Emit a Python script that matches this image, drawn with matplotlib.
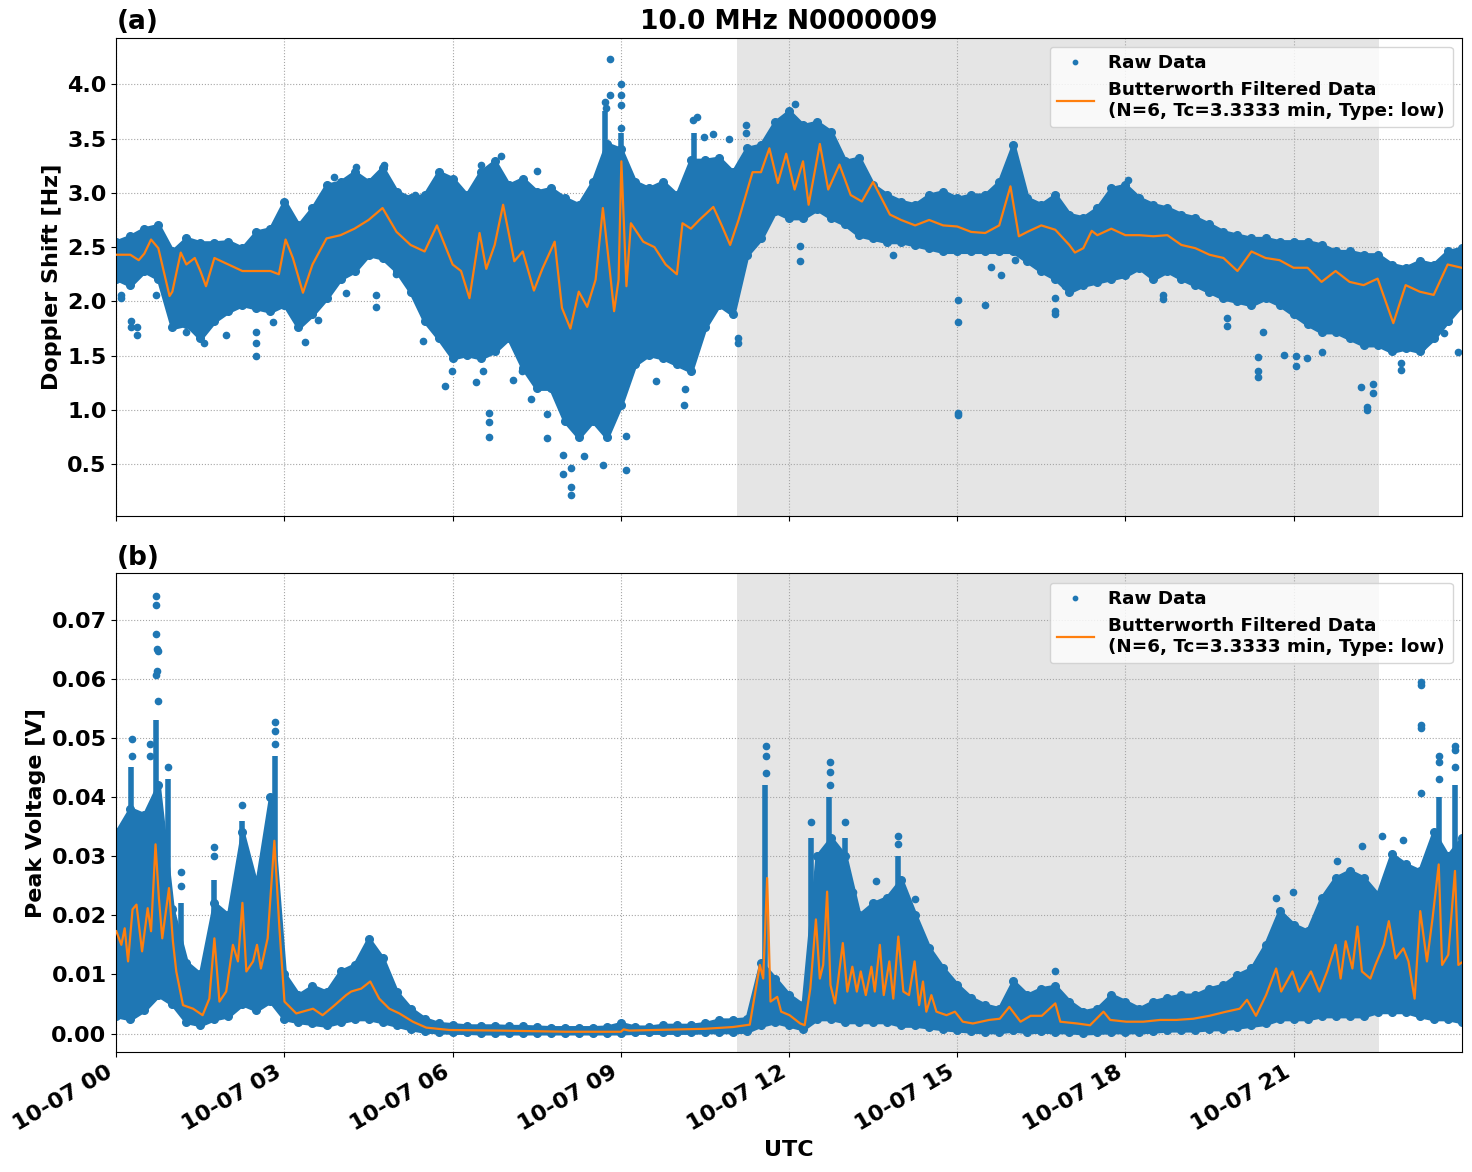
import numpy as np
import matplotlib
matplotlib.use("Agg")
import matplotlib.pyplot as plt
import matplotlib.dates as mdates

plt.rcParams['font.size'] = 16
plt.rcParams['font.weight'] = 'bold'
plt.rcParams['axes.titleweight'] = 'bold'
plt.rcParams['axes.labelweight'] = 'bold'

DAY = np.datetime64('2023-10-07T00:00:00')
SHADE = (11.07, 22.53)          # hours UTC
LEGEND_LINE = 'Butterworth Filtered Data\n(N=6, Tc=3.3333 min, Type: low)'

# band of the raw data, every 15 min (0 .. 24 h)
band_hours = np.arange(0, 24.01, 0.25)

doppler_hi = [2.55, 2.60, 2.67, 2.70, 2.46, 2.58, 2.54, 2.54,
              2.55, 2.49, 2.64, 2.67, 2.92, 2.70, 2.86, 3.07,
              3.10, 3.19, 3.10, 3.23, 3.01, 2.95, 2.98, 3.19,
              3.13, 2.98, 3.19, 3.29, 3.07, 3.13, 3.01, 3.04,
              2.95, 2.89, 3.10, 3.45, 3.40, 3.10, 3.04, 3.10,
              2.98, 3.30, 3.30, 3.32, 3.19, 3.41, 3.44, 3.65,
              3.75, 3.62, 3.65, 3.56, 3.29, 3.32, 3.07, 2.98,
              2.92, 2.89, 2.98, 3.01, 2.95, 2.98, 2.98, 3.10,
              3.44, 2.95, 2.89, 2.98, 2.80, 2.77, 2.86, 3.04,
              3.07, 2.95, 2.89, 2.86, 2.80, 2.77, 2.71, 2.64,
              2.61, 2.58, 2.58, 2.55, 2.55, 2.55, 2.52, 2.46,
              2.46, 2.43, 2.43, 2.34, 2.31, 2.37, 2.34, 2.46,
              2.49]
doppler_lo = [2.21, 2.15, 2.28, 2.21, 1.76, 1.79, 1.66, 1.82,
              1.91, 1.97, 1.94, 1.91, 1.97, 1.76, 1.88, 2.03,
              2.21, 2.28, 2.43, 2.40, 2.28, 2.09, 1.82, 1.66,
              1.48, 1.51, 1.48, 1.54, 1.66, 1.39, 1.20, 1.20,
              0.90, 0.75, 0.90, 0.75, 1.05, 1.42, 1.51, 1.48,
              1.42, 1.36, 1.76, 1.97, 1.88, 2.43, 2.58, 2.83,
              2.77, 2.77, 2.85, 2.77, 2.71, 2.61, 2.58, 2.55,
              2.55, 2.52, 2.49, 2.46, 2.46, 2.46, 2.46, 2.46,
              2.46, 2.37, 2.28, 2.21, 2.09, 2.15, 2.18, 2.21,
              2.24, 2.31, 2.21, 2.28, 2.21, 2.15, 2.09, 2.03,
              2.00, 1.97, 2.03, 1.97, 1.88, 1.79, 1.72, 1.72,
              1.66, 1.60, 1.60, 1.54, 1.57, 1.54, 1.66, 1.82,
              1.97]
volt_hi = [0.034, 0.038, 0.037, 0.042, 0.021, 0.012, 0.010, 0.022,
           0.020, 0.034, 0.025, 0.040, 0.010, 0.0065, 0.008, 0.007,
           0.0105, 0.0116, 0.0160, 0.0127, 0.007, 0.0042, 0.0025, 0.0017,
           0.0015, 0.0013, 0.0013, 0.0013, 0.0012, 0.0012, 0.0011, 0.0010,
           0.0010, 0.0010, 0.0010, 0.0011, 0.0017, 0.0011, 0.0011, 0.0014,
           0.0014, 0.0014, 0.0017, 0.0023, 0.0023, 0.0025, 0.012, 0.0093,
           0.0065, 0.0048, 0.030, 0.033, 0.030, 0.020, 0.022, 0.023,
           0.026, 0.020, 0.0144, 0.011, 0.0082, 0.006, 0.0048, 0.0042,
           0.0088, 0.0065, 0.0076, 0.0080, 0.0054, 0.0037, 0.0042, 0.0065,
           0.0054, 0.0042, 0.0054, 0.006, 0.0065, 0.0065, 0.0076, 0.0082,
           0.0099, 0.011, 0.015, 0.0207, 0.0184, 0.0173, 0.0229, 0.0263,
           0.0275, 0.0263, 0.0235, 0.0303, 0.0286, 0.0275, 0.034, 0.030,
           0.033]
volt_lo = [0.003, 0.0025, 0.004, 0.0065, 0.005, 0.002, 0.0015, 0.0025,
           0.003, 0.005, 0.004, 0.0055, 0.0025, 0.002, 0.0017, 0.0014,
           0.002, 0.0025, 0.0025, 0.002, 0.0014, 0.0008, 0.0004, 0.0003,
           0.0002, 0.0002, 0.0001, 0.0001, 0.0001, 0.0001, 0.0001, 0.0001,
           0.0001, 0.0001, 0.0001, 0.0001, 0.0001, 0.0002, 0.0002, 0.0002,
           0.0002, 0.0002, 0.0003, 0.0003, 0.0003, 0.0004, 0.0014, 0.002,
           0.0014, 0.0008, 0.0025, 0.0025, 0.002, 0.002, 0.002, 0.002,
           0.0014, 0.0014, 0.0011, 0.0008, 0.0006, 0.0004, 0.0003, 0.0003,
           0.0006, 0.0003, 0.0004, 0.0003, 0.0003, 0.0001, 0.0002, 0.0003,
           0.0003, 0.0003, 0.0004, 0.0006, 0.0006, 0.0006, 0.0008, 0.0008,
           0.0011, 0.0014, 0.0017, 0.0025, 0.0025, 0.0025, 0.003, 0.003,
           0.003, 0.003, 0.0037, 0.0037, 0.0037, 0.003, 0.0025, 0.0025,
           0.002]

# short bursts where raw points pile up: hour, bottom, top
doppler_burst_h = [8.72, 9.01, 10.30]
doppler_burst_lo = [1.50, 1.20, 2.20]
doppler_burst_hi = [3.75, 3.55, 3.55]
volt_burst_h = [0.27, 0.70, 0.93, 1.15, 1.75, 2.25, 2.83, 11.58, 12.40, 12.72, 13.00, 13.95, 23.60, 23.88]
volt_burst_lo = [0.02, 0.02, 0.02, 0.005, 0.005, 0.01, 0.01, 0.003, 0.003, 0.003, 0.003, 0.003, 0.01, 0.01]
volt_burst_hi = [0.045, 0.053, 0.043, 0.022, 0.026, 0.036, 0.047, 0.042, 0.033, 0.040, 0.033, 0.030, 0.040, 0.042]

# isolated raw points
doppler_pt_h = [0.09, 0.09, 0.27, 0.27, 0.37, 0.37, 0.71, 1.25, 1.57, 1.96, 2.50, 2.50, 2.50, 2.79,
                3.36, 3.59, 3.89, 4.10, 4.28, 4.63, 4.63, 4.78, 4.99, 5.32, 5.48, 5.75, 5.86, 5.99,
                6.41, 6.51, 6.54, 6.64, 6.64, 6.64, 6.86, 7.07, 7.24, 7.39, 7.50, 7.68, 7.68, 7.96,
                7.96, 8.12, 8.12, 8.11, 8.35, 8.68, 8.80, 8.80, 8.71, 8.74, 9.01, 9.01, 9.01, 9.01,
                9.10, 9.10, 9.63, 10.13, 10.14, 10.35, 10.29, 10.48, 10.64, 10.93, 11.09, 11.09,
                11.23, 11.23, 12.10, 12.19, 12.19, 13.86, 15.02, 15.02, 15.02, 15.02, 15.49, 15.61,
                15.79, 16.04, 16.74, 16.74, 16.75, 16.93, 18.04, 18.67, 18.67, 19.82, 19.82, 20.36,
                20.36, 20.36, 20.45, 20.83, 21.05, 21.05, 21.24, 21.51, 22.20, 22.31, 22.31, 22.42,
                22.42, 22.91, 22.91, 23.29, 23.69, 23.94]
doppler_pt_v = [2.03, 2.06, 1.82, 1.76, 1.76, 1.69, 2.06, 1.72, 1.62, 1.69, 1.72, 1.62, 1.50, 1.81,
                1.63, 1.83, 3.15, 2.08, 3.24, 1.95, 2.06, 3.26, 2.25, 2.98, 1.64, 1.80, 1.22, 1.36,
                1.26, 3.26, 1.36, 0.97, 0.89, 0.75, 3.34, 1.28, 1.36, 1.10, 3.20, 0.74, 0.96, 0.41,
                0.59, 0.22, 0.29, 0.47, 0.58, 0.49, 4.23, 3.90, 3.84, 3.78, 4.00, 3.90, 3.81, 3.60,
                0.45, 0.76, 1.27, 1.05, 1.19, 3.70, 3.67, 3.51, 3.54, 3.50, 1.66, 1.62,
                3.62, 3.55, 3.82, 2.51, 2.37, 2.43, 1.81, 2.01, 0.97, 0.95, 1.97, 2.32,
                2.24, 2.38, 1.88, 1.91, 2.03, 2.14, 3.12, 2.02, 2.06, 1.77, 1.85, 1.49,
                1.36, 1.30, 1.72, 1.51, 1.41, 1.50, 1.48, 1.53, 1.21, 1.00, 1.03, 1.16,
                1.24, 1.37, 1.43, 1.58, 1.71, 1.53]
volt_pt_h = [0.70, 0.70, 0.70, 0.72, 0.74, 0.72, 0.71, 0.75, 0.28, 0.28, 0.60, 0.60, 0.92,
             1.15, 1.15, 1.75, 1.75, 2.25, 2.83, 2.83, 2.83, 11.59, 11.59, 11.59, 12.40,
             12.73, 12.73, 12.73, 13.00, 13.15, 13.55, 13.95, 13.95, 14.25, 16.75, 20.69,
             20.99, 21.78, 22.22, 22.58, 22.96, 23.27, 23.27, 23.27, 23.27, 23.27, 23.60,
             23.60, 23.59, 23.88, 23.88, 23.88]
volt_pt_v = [0.0740, 0.0725, 0.0676, 0.0650, 0.0647, 0.0613, 0.0606, 0.0563, 0.0498, 0.0470,
             0.0490, 0.0470, 0.0450, 0.0273, 0.0250, 0.0315, 0.0300, 0.0386, 0.0526, 0.0511,
             0.0490, 0.0487, 0.0470, 0.0440, 0.0357, 0.0459, 0.0443, 0.0420, 0.0357, 0.0240,
             0.0258, 0.0334, 0.0320, 0.0228, 0.0105, 0.0229, 0.0240, 0.0292, 0.0317, 0.0334,
             0.0328, 0.0595, 0.0589, 0.0521, 0.0516, 0.0406, 0.0470, 0.0460, 0.0430, 0.0487,
             0.0480, 0.0450]

# Butterworth filtered curves (hour, value)
doppler_filt_h = [0.00, 0.25, 0.40, 0.50, 0.62, 0.75, 0.95, 1.00, 1.15, 1.25, 1.40, 1.50, 1.60,
                  1.75, 2.00, 2.25, 2.50, 2.75, 2.90, 3.02, 3.15, 3.33, 3.50, 3.75, 4.00, 4.25,
                  4.50, 4.75, 5.00, 5.25, 5.50, 5.72, 6.00, 6.15, 6.30, 6.48, 6.60, 6.75, 6.90,
                  7.10, 7.25, 7.45, 7.60, 7.82, 7.95, 8.10, 8.25, 8.40, 8.55, 8.68, 8.80, 8.88,
                  8.96, 9.01, 9.10, 9.18, 9.40, 9.60, 9.80, 10.00, 10.10, 10.25, 10.40, 10.65,
                  10.80, 10.95, 11.10, 11.35, 11.50, 11.65, 11.80, 11.95, 12.10, 12.25, 12.35,
                  12.55, 12.70, 12.90, 13.10, 13.30, 13.50, 13.80, 14.00, 14.25, 14.50, 14.75,
                  15.00, 15.25, 15.50, 15.75, 15.95, 16.10, 16.25, 16.50, 16.75, 17.00, 17.10,
                  17.25, 17.40, 17.50, 17.75, 18.00, 18.25, 18.50, 18.75, 19.00, 19.25, 19.50,
                  19.75, 20.00, 20.25, 20.50, 20.75, 21.00, 21.25, 21.50, 21.75, 22.00, 22.25,
                  22.50, 22.78, 23.00, 23.25, 23.50, 23.75, 24.00]
doppler_filt_v = [2.43, 2.43, 2.38, 2.44, 2.57, 2.49, 2.05, 2.09, 2.45, 2.34, 2.40, 2.28, 2.14,
                  2.40, 2.34, 2.28, 2.28, 2.28, 2.25, 2.57, 2.40, 2.08, 2.34, 2.58, 2.61, 2.67,
                  2.75, 2.86, 2.64, 2.52, 2.46, 2.70, 2.34, 2.28, 2.03, 2.63, 2.30, 2.52, 2.89,
                  2.37, 2.46, 2.10, 2.30, 2.55, 1.94, 1.75, 2.09, 1.95, 2.20, 2.86, 2.30, 1.91,
                  2.20, 3.29, 2.14, 2.72, 2.55, 2.50, 2.34, 2.25, 2.72, 2.67, 2.75, 2.87,
                  2.70, 2.52, 2.75, 3.19, 3.19, 3.41, 3.09, 3.36, 3.03, 3.29, 2.89,
                  3.45, 3.03, 3.26, 2.98, 2.92, 3.10, 2.80, 2.75, 2.70, 2.75, 2.70,
                  2.69, 2.64, 2.63, 2.70, 3.06, 2.60, 2.64, 2.70, 2.66, 2.52, 2.45,
                  2.49, 2.65, 2.61, 2.67, 2.61, 2.61, 2.60, 2.61, 2.52, 2.49, 2.43,
                  2.40, 2.28, 2.46, 2.40, 2.38, 2.31, 2.31, 2.18, 2.28, 2.18, 2.15,
                  2.21, 1.80, 2.15, 2.09, 2.06, 2.34, 2.31]
volt_filt_h = [0.00, 0.09, 0.15, 0.21, 0.29, 0.36, 0.46, 0.56, 0.62, 0.70, 0.76, 0.82, 0.94,
               1.01, 1.07, 1.19, 1.37, 1.54, 1.66, 1.75, 1.84, 1.96, 2.08, 2.17, 2.25, 2.32,
               2.44, 2.51, 2.58, 2.70, 2.82, 2.91, 3.00, 3.21, 3.51, 3.68, 3.86, 4.10, 4.19,
               4.37, 4.53, 4.69, 4.87, 5.05, 5.29, 5.53, 5.94, 6.83, 8.02, 9.00, 9.05, 9.15,
               10.50, 11.00, 11.30, 11.48, 11.54, 11.61, 11.67, 11.79, 11.86, 12.01, 12.20,
               12.28, 12.38, 12.48, 12.55, 12.61, 12.68, 12.74, 12.82, 12.88, 12.96, 13.04,
               13.13, 13.21, 13.28, 13.37, 13.47, 13.53, 13.62, 13.69, 13.79, 13.86, 13.95,
               14.04, 14.14, 14.24, 14.32, 14.39, 14.45, 14.54, 14.63, 14.81, 14.96, 15.10,
               15.28, 15.57, 15.76, 15.93, 16.13, 16.31, 16.51, 16.75, 16.84, 17.14, 17.37,
               17.61, 17.73, 18.02, 18.32, 18.62, 18.91, 19.21, 19.50, 19.80, 20.04, 20.17,
               20.33, 20.51, 20.69, 20.78, 20.98, 21.10, 21.31, 21.46, 21.60, 21.75, 21.84,
               21.93, 22.05, 22.14, 22.22, 22.37, 22.46, 22.61, 22.70, 22.82, 22.96, 23.05,
               23.16, 23.26, 23.38, 23.48, 23.59, 23.65, 23.76, 23.88, 23.94, 24.00]
volt_filt_v = [0.0173, 0.0150, 0.0178, 0.0122, 0.0210, 0.0218, 0.0139, 0.0212, 0.0173, 0.0320,
               0.0229, 0.0161, 0.0246, 0.0156, 0.0105, 0.0048, 0.0042, 0.0031, 0.0059, 0.0161,
               0.0054, 0.0071, 0.0150, 0.0122, 0.0221, 0.0105, 0.0122, 0.0150, 0.0110, 0.0161,
               0.0326, 0.0178, 0.0054, 0.0034, 0.0042, 0.0031, 0.0045, 0.0065, 0.0071, 0.0076,
               0.0088, 0.0059, 0.0042, 0.0034, 0.0020, 0.0010, 0.0006, 0.0005, 0.0003, 0.0003,
               0.0007, 0.0005, 0.0008, 0.0011, 0.0015, 0.0116, 0.0093, 0.0263, 0.0054, 0.0062,
               0.0037, 0.0031, 0.0017, 0.0014, 0.0076, 0.0193, 0.0093, 0.0116, 0.0240, 0.0082,
               0.0051, 0.0093, 0.0153, 0.0071, 0.0113, 0.0071, 0.0105, 0.0065, 0.0113, 0.0071,
               0.0150, 0.0065, 0.0122, 0.0059, 0.0164, 0.0071, 0.0065, 0.0122, 0.0048, 0.0088,
               0.0037, 0.0065, 0.0037, 0.0031, 0.0037, 0.0020, 0.0017, 0.0023, 0.0025, 0.0045,
               0.0020, 0.0030, 0.0030, 0.0051, 0.0020, 0.0017, 0.0014, 0.0037, 0.0023, 0.0020,
               0.0020, 0.0023, 0.0023, 0.0025, 0.0030, 0.0037, 0.0042, 0.0057, 0.0030, 0.0065,
               0.0110, 0.0071, 0.0105, 0.0071, 0.0105, 0.0071, 0.0105, 0.0150, 0.0093, 0.0156,
               0.0110, 0.0181, 0.0105, 0.0093, 0.0116, 0.0150, 0.0190, 0.0127, 0.0144, 0.0122,
               0.0059, 0.0207, 0.0122, 0.0195, 0.0286, 0.0116, 0.0133, 0.0275, 0.0116, 0.0120]


def to_time(hours):
    secs = np.round(np.asarray(hours, dtype=float) * 3600).astype('int64')
    return DAY + secs.astype('timedelta64[s]')


def draw_panel(ax, hi, lo, burst_h, burst_lo, burst_hi, pt_h, pt_v, filt_h, filt_v):
    t = to_time(band_hours)
    ax.axvspan(to_time([SHADE[0]])[0], to_time([SHADE[1]])[0], color='gray', alpha=0.2, lw=0, zorder=1)
    ax.fill_between(t, lo, hi, color='C0', lw=3, edgecolor='C0', zorder=2)
    # dots on the edges of the band give it the ragged look of the scatter
    ax.plot(t, hi, '.', color='C0', ms=11, ls='none', zorder=2)
    ax.plot(t, lo, '.', color='C0', ms=11, ls='none', zorder=2)
    ax.vlines(to_time(burst_h), burst_lo, burst_hi, color='C0', lw=4, zorder=2)
    ax.plot(to_time(pt_h), pt_v, '.', color='C0', ms=9, ls='none', zorder=2, label='Raw Data')
    ax.plot(to_time(filt_h), filt_v, color='C1', lw=1.6, zorder=3, label=LEGEND_LINE)
    ax.grid(True, ls=':', color='0.65')
    ax.legend(loc='upper right', fontsize=13.2, markerscale=0.7)


fig, (ax1, ax2) = plt.subplots(2, 1, figsize=(14.72, 11.72), dpi=100, sharex=True)

draw_panel(ax1, doppler_hi, doppler_lo, doppler_burst_h, doppler_burst_lo, doppler_burst_hi,
           doppler_pt_h, doppler_pt_v, doppler_filt_h, doppler_filt_v)
draw_panel(ax2, volt_hi, volt_lo, volt_burst_h, volt_burst_lo, volt_burst_hi,
           volt_pt_h, volt_pt_v, volt_filt_h, volt_filt_v)

ax1.set_title('10.0 MHz N0000009', fontsize=19)
ax1.set_title('(a)', loc='left', fontsize=19)
ax2.set_title('(b)', loc='left', fontsize=19)
ax1.set_ylabel('Doppler Shift [Hz]')
ax2.set_ylabel('Peak Voltage [V]')
ax2.set_xlabel('UTC')
ax1.set_yticks([0.5, 1.0, 1.5, 2.0, 2.5, 3.0, 3.5, 4.0])
ax1.set_ylim(0.02, 4.43)
ax2.set_yticks([0.0, 0.01, 0.02, 0.03, 0.04, 0.05, 0.06, 0.07])
ax2.set_ylim(-0.0032, 0.0778)

ax2.xaxis.set_major_locator(mdates.HourLocator(byhour=range(0, 24, 3)))
ax2.xaxis.set_major_formatter(mdates.DateFormatter('%m-%d %H'))
ax2.set_xlim(DAY, DAY + np.timedelta64(86399, 's'))

fig.autofmt_xdate(bottom=0.102)
fig.subplots_adjust(left=0.079, right=0.993, top=0.968, bottom=0.102, hspace=0.119)
fig.savefig('out.png', dpi=100)
